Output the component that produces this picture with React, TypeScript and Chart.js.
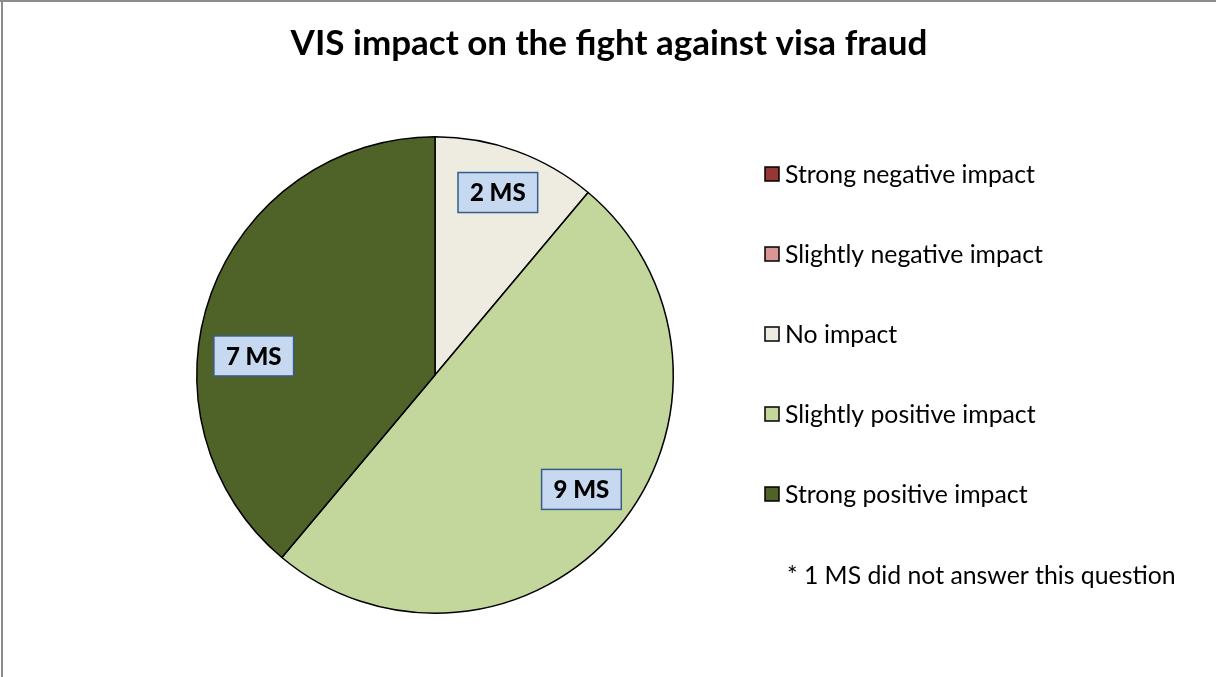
import React, { useEffect, useRef } from "react";
import { Chart, registerables } from "chart.js";
Chart.register(...registerables);

const categories = [
  "Strong negative impact",
  "Slightly negative impact",
  "No impact",
  "Slightly positive impact",
  "Strong positive impact",
];
const values = [0, 0, 2, 9, 7];
const colors = ["#953735", "#d99694", "#eeece1", "#c3d69b", "#4f6228"];
const titleText = "VIS impact on the fight against visa fraud";
const noteText = "* 1 MS did not answer this question";
const unitText = "MS";

const FONT = "Lato, 'Open Sans', sans-serif";

const decorPlugin = {
  id: "decor",
  beforeDraw(chart: any) {
    const ctx = chart.ctx;
    ctx.save();
    ctx.fillStyle = "#ffffff";
    ctx.fillRect(0, 0, chart.width, chart.height);
    ctx.fillStyle = "#8c8c8c";
    ctx.fillRect(0, 0, chart.width, 2);
    ctx.fillRect(1, 0, 2, chart.height);
    ctx.restore();
  },
  afterDraw(chart: any) {
    const ctx = chart.ctx;
    const opts = chart.options.plugins.decor;
    ctx.save();
    // title
    ctx.fillStyle = "#000";
    ctx.font = `bold ${opts.titleSize}px ${FONT}`;
    ctx.textAlign = "center";
    ctx.textBaseline = "alphabetic";
    ctx.fillText(titleText, opts.titleX, opts.titleY);

    // legend
    ctx.font = `${opts.legendSize}px ${FONT}`;
    ctx.textAlign = "left";
    ctx.textBaseline = "middle";
    const ds = chart.data.datasets[0];
    chart.data.labels.forEach((lab: string, i: number) => {
      const cy = opts.legendY + i * opts.legendGap;
      ctx.fillStyle = ds.backgroundColor[i];
      ctx.fillRect(opts.legendX, cy - 7, 14, 14);
      ctx.strokeStyle = "#000";
      ctx.lineWidth = 1.5;
      ctx.strokeRect(opts.legendX, cy - 7, 14, 14);
      ctx.fillStyle = "#000";
      ctx.fillText(lab, opts.legendX + 20, cy + 1);
    });
    ctx.fillText(noteText, opts.legendX + 22, opts.legendY + categories.length * opts.legendGap + 2);

    // data labels
    const meta = chart.getDatasetMeta(0);
    ctx.font = `900 ${opts.labelSize}px ${FONT}`;
    ctx.textAlign = "center";
    meta.data.forEach((arc: any, i: number) => {
      const v = ds.data[i];
      if (!v) return;
      const p = arc.getProps(["x", "y", "startAngle", "endAngle", "outerRadius"], true);
      const place = opts.placement[i] || { f: 0.78, da: 0 };
      const mid = (p.startAngle + p.endAngle) / 2 + (place.da * Math.PI) / 180;
      const r = p.outerRadius * place.f;
      const x = p.x + Math.cos(mid) * r;
      const y = p.y + Math.sin(mid) * r;
      const txt = `${v} ${unitText}`;
      const w = ctx.measureText(txt).width + 24;
      const h = 40;
      ctx.fillStyle = "#c6d9f1";
      ctx.fillRect(x - w / 2, y - h / 2, w, h);
      ctx.strokeStyle = "#385d8a";
      ctx.lineWidth = 1.5;
      ctx.strokeRect(x - w / 2, y - h / 2, w, h);
      ctx.fillStyle = "#000";
      ctx.fillText(txt, x, y + 1);
    });
    ctx.restore();
  },
};

export default function App() {
  const ref = useRef<HTMLCanvasElement>(null);
  useEffect(() => {
    document.body.style.margin = "0";
    const chart = new Chart(ref.current!, {
      type: "pie",
      data: {
        labels: categories,
        datasets: [
          {
            data: values,
            backgroundColor: colors,
            borderColor: "#000000",
            borderWidth: 1.5,
          },
        ],
      },
      options: {
        animation: false,
        responsive: true,
        maintainAspectRatio: false,
        layout: { padding: { left: 196, right: 542, top: 136, bottom: 63 } },
        plugins: {
          legend: { display: false },
          tooltip: { enabled: false },
          title: { display: false },
          decor: {
            titleSize: 35,
            titleX: 609,
            titleY: 55,
            legendSize: 24.8,
            legendX: 765,
            legendY: 174,
            legendGap: 80,
            labelSize: 24,
            placement: {
              2: { f: 0.81, da: -1 },
              3: { f: 0.78, da: -2 },
              4: { f: 0.765, da: -14 },
            },
          },
        } as any,
      },
      plugins: [decorPlugin],
    });
    return () => chart.destroy();
  }, []);
  return (
    <div style={{ position: "fixed", left: 0, top: 0, width: 1216, height: 677 }}>
      <canvas ref={ref} />
    </div>
  );
}
